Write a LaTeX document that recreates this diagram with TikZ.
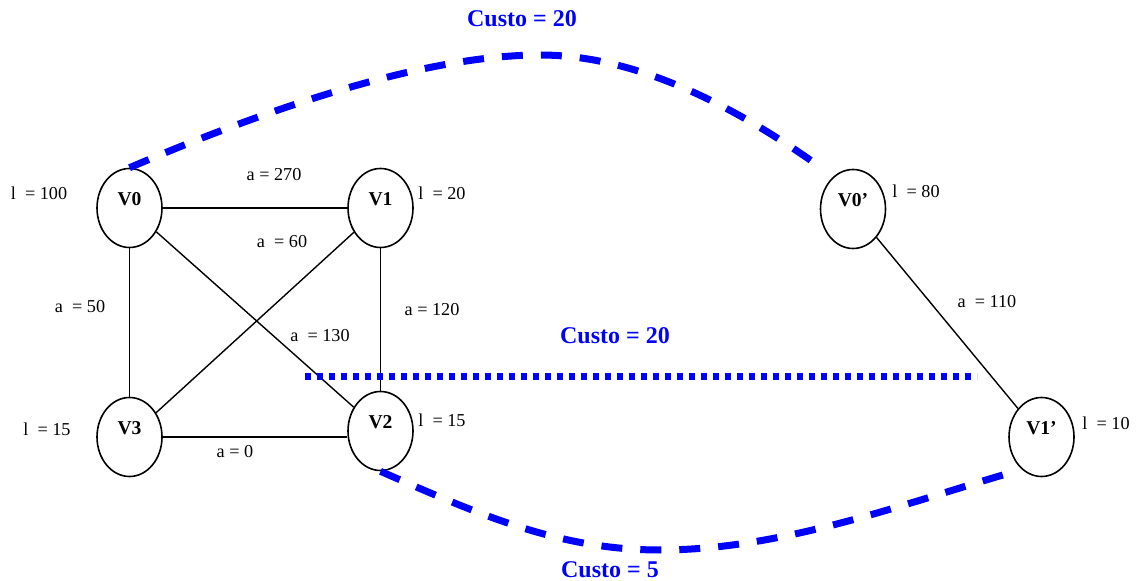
\documentclass[tikz,border=0pt]{standalone}
\usepackage{fontspec}
\setmainfont{Liberation Serif}
\usepackage{tikz}
\usetikzlibrary{shapes.geometric}

\tikzset{
  vertex/.style={draw, ellipse, line width=0.8pt, minimum width=32.5pt,
    minimum height=39.5pt, inner sep=0pt},
  vname/.style={font=\fontsize{9.8}{11}\selectfont\bfseries, yshift=4.5pt},
  weight/.style={font=\fontsize{9.1}{10}\selectfont, inner sep=0pt},
  cost/.style={font=\fontsize{12}{14}\selectfont\bfseries, text=blue, inner sep=0pt},
  edge/.style={line width=0.7pt},
  route/.style={blue, line width=3.5pt, dash pattern=on 10.5pt off 9pt},
  cut/.style={blue, line width=3.5pt, dash pattern=on 3pt off 3pt},
}

\begin{document}
\begin{tikzpicture}[x=0.5pt, y=-0.5pt]
    \useasboundingbox (0, 0) rectangle (1138, 581);
    \begin{scope}
      % vertices
      \node[vertex, label={[vname]center:V0}] (v0) at (129.5, 208) {};
      \node[vertex, label={[vname]center:V1}] (v1) at (380.5, 208) {};
      \node[vertex, label={[vname]center:V2}] (v2) at (380.5, 431) {};
      \node[vertex, label={[vname]center:V3}] (v3) at (129.5, 437) {};
      \node[vertex, label={[vname]center:V0'}] (v0p) at (853, 209) {};
      \node[vertex, label={[vname]center:V1'}] (v1p) at (1041.5, 437) {};

      % edges
      \draw[edge] (v0.east) -- (v0.east -| v1.west);
      \draw[edge] (v0.south) -- (v3.north);
      \draw[edge] (v0) -- (v2);
      \draw[edge] (v1) -- (v3);
      \draw[edge] (v1.south) -- (v2.north);
      \draw[edge] (v3.east) -- (v3.east -| v2.west);
      \draw[edge] (v0p) -- (v1p);

      % vertex and edge values
      \node[weight] (l0) at (39, 193) {l \ = 100};
      \node[weight] (l1) at (442, 193) {l \ = 20};
      \node[weight] (l2) at (442, 420) {l \ = 15};
      \node[weight] (l3) at (47, 429) {l \ = 15};
      \node[weight] (l0p) at (916, 191) {l \ = 80};
      \node[weight] (l1p) at (1106, 423) {l \ = 10};
      \node[weight] (a01) at (274, 175) {a = 270};
      \node[weight] (a13) at (282, 242) {a \ = 60};
      \node[weight] (a03) at (80, 307) {a \ = 50};
      \node[weight] (a12) at (432, 310) {a = 120};
      \node[weight] (a02) at (320, 336) {a \ = 130};
      \node[weight] (a32) at (235, 452) {a = 0};
      \node[weight] (a0p1p) at (987, 302) {a \ = 110};

      % mapping costs
      \draw[route] (v0.north) .. controls (300, 95) and (440, 55) .. (540, 55)
        .. controls (640, 55) and (740, 110) .. ([shift={(-10, -14)}]v0p.north west);
      \draw[route] (v2.south) .. controls (480, 515) and (560, 550) .. (660, 550)
        .. controls (780, 550) and (900, 505) .. ([shift={(-10, 8)}]v1p.south west);
      \coordinate (c0) at (305, 377);
      \coordinate (c1) at (977, 377);
      \draw[cut] (c0) -- (c1);
      \node[cost] (custo1) at (522, 19) {Custo = 20};
      \node[cost] (custo2) at (615, 336) {Custo = 20};
      \node[cost] (custo3) at (610, 570) {Custo = 5};
    \end{scope}
  \end{tikzpicture}
\end{document}
